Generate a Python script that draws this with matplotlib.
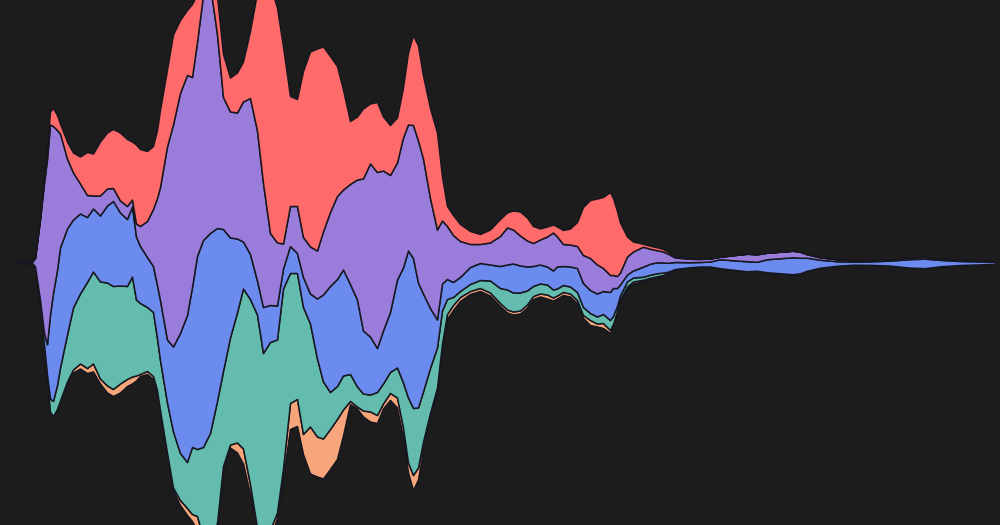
import numpy as np
import matplotlib
matplotlib.use("Agg")
import matplotlib.pyplot as plt

# sample positions along the stream
x = [15, 25, 32, 35, 40, 44, 47, 50, 53, 57, 60, 67, 73, 80, 87, 93, 100, 107, 113, 120,
     127, 132, 136, 140, 147, 153, 157, 160, 167, 173, 180, 187, 192, 197, 203, 210, 217, 223, 230, 237,
     243, 250, 257, 263, 270, 277, 283, 290, 297, 303, 310, 317, 323, 330, 337, 343, 350, 357, 363, 370,
     377, 383, 390, 397, 403, 408, 413, 418, 423, 430, 437, 442, 447, 453, 460, 470, 480, 490, 500, 507,
     513, 520, 527, 533, 540, 547, 553, 557, 563, 570, 577, 583, 590, 597, 603, 610, 613, 617, 620, 627,
     633, 643, 650, 657, 663, 668, 675, 690, 700, 710, 720, 733, 747, 757, 767, 780, 793, 800, 807, 820,
     837, 853, 870, 890, 910, 925, 940, 960, 980, 995]

# layer values, bottom to top
orange = [1.2, 1.2, 1.0, 0.5, 0.5, 0.5, 0.5, 2, 1, 1, 1, 2, 3, 5, 5, 8, 5, 7, 7, 9,
          7, 7, 5, 2, 3, 3, 5, 5, 3, 3, 5, 7, 7, 15, 8, 5, 6, 5, 3, 10,
          15, 10, 5, 5, 10, 5, 10, 26, 27, 20, 47, 40, 40, 40, 40, 26, 3, 2, 6, 10,
          8, 5, 7, 10, 10, 10, 15, 12, 8, 4, 5, 5, 5, 5, 4, 3, 3, 3, 3, 3,
          3, 3, 3, 3, 3, 4, 3, 3, 3, 3, 3, 3, 5, 3, 5, 3, 3, 3, 3, 2,
          2, 1.5, 1.5, 1.5, 1, 0.5, 0, 0, 0, 0, 0, 0, 0, 0, 0, 0, 0, 0, 0, 0,
          0, 0, 0, 0, 0, 0, 0, 0, 0, 0]
teal = [0, 0, 0, 0, 1, 2, 3, 13, 15, 24, 33, 47, 62, 70, 86, 92, 97, 103, 103, 98,
        93, 100, 76, 71, 64, 64, 52, 50, 50, 56, 47, 46, 67, 67, 90, 107, 122, 95, 107, 130,
        160, 185, 213, 182, 188, 173, 180, 130, 126, 127, 103, 78, 57, 37, 33, 34, 27, 20, 17, 17,
        23, 20, 21, 30, 45, 65, 67, 60, 50, 45, 40, 33, 15, 8, 6, 7, 8, 12, 15, 20,
        19, 18, 14, 10, 10, 10, 8, 7, 7, 7, 8, 8, 7, 7, 9, 10, 8, 5, 4, 5,
        4, 3, 3, 3, 2.5, 1, 0, 0, 0, 0, 0, 0, 0, 0, 0, 0, 0, 0, 0, 0,
        0, 0, 0, 0, 0, 0, 0, 0, 0, 0]
blue = [0, 0, 0.5, 1, 6, 12, 30, 84, 108, 115, 120, 106, 88, 80, 65, 63, 66, 77, 85, 73,
        67, 70, 63, 57, 50, 46, 53, 60, 63, 85, 120, 147, 160, 193, 207, 200, 173, 142, 100, 74,
        47, 45, 34, 46, 37, 34, 20, 27, 20, 30, 30, 60, 87, 106, 107, 106, 90, 87, 63, 58,
        44, 53, 60, 88, 115, 147, 150, 125, 98, 60, 28, 27, 20, 15, 14, 17, 17, 16, 22, 25,
        29, 27, 24, 20, 19, 18, 19, 22, 19, 20, 24, 24, 23, 23, 23, 28, 28, 18, 11, 7,
        7, 10, 11, 11, 10, 9, 7, 5, 4.5, 5, 9, 9.5, 10, 9, 13, 15, 17, 15.5, 13, 8,
        4.5, 3, 3.5, 5, 8.5, 9.5, 6.5, 4, 3, 2]
purple = [0, 0, 1.0, 8, 80, 150, 185, 190, 167, 140, 114, 70, 47, 30, 22, 13, 20, 17, 13, 12,
          13, 7, 13, 20, 36, 57, 87, 113, 193, 222, 240, 240, 210, 214, 245, 248, 194, 132, 126, 126,
          140, 156, 150, 124, 72, 63, 25, 40, 47, 40, 47, 48, 63, 74, 83, 80, 100, 120, 152, 173,
          176, 160, 137, 117, 130, 126, 133, 142, 135, 110, 90, 63, 53, 47, 36, 23, 19, 22, 30, 37,
          34, 30, 26, 23, 25, 30, 38, 30, 22, 22, 22, 28, 32, 29, 23, 17, 13, 12, 12, 18,
          19, 20, 15, 12, 11, 9, 4.5, 3.5, 3, 3, 2.5, 5, 7.5, 7.5, 6.5, 6.5, 6.5, 6, 3.5, 2.5,
          2, 1.5, 1.2, 1.2, 1.8, 1.8, 1.2, 1, 0.8, 0.5]
red = [1.2, 1.2, 1.2, 1, 2, 5, 12, 13, 18, 15, 10, 17, 20, 27, 43, 42, 54, 56, 59, 68,
       67, 58, 79, 77, 70, 63, 68, 77, 77, 90, 73, 65, 73, 48, 15, 5, 38, 43, 34, 40,
       40, 67, 138, 198, 248, 235, 197, 110, 107, 166, 195, 202, 185, 156, 130, 100, 63, 63, 70, 60,
       70, 54, 50, 45, 50, 72, 90, 95, 83, 90, 97, 44, 20, 20, 17, 13, 10, 13, 17, 15,
       19, 24, 23, 17, 11, 10, 8, 10, 14, 16, 24, 48, 58, 66, 71, 83, 77, 65, 50, 20,
       10, 3, 3, 3, 2.5, 2, 1.5, 1, 0.5, 0, 0, 0, 0, 0, 0, 0, 0, 0, 0, 0,
       0, 0, 0, 0, 0, 0, 0, 0, 0, 0]

colors = ["#f7a67b", "#63bcae", "#6b8bee", "#9a7ddb", "#ff6b6b"]
bg = "#1c1c1c"

fig = plt.figure(figsize=(10, 5.25), dpi=100, facecolor=bg)
ax = fig.add_axes([0, 0, 1, 1])
ax.set_facecolor(bg)

polys = ax.stackplot(x, orange, teal, blue, purple, red,
                     colors=colors, baseline="sym")
for p in polys:
    p.set_edgecolor("#17171f")
    p.set_linewidth(1.1)

ax.set_xlim(0, 1000)
ax.set_ylim(-262.5, 262.5)
ax.axis("off")

fig.savefig("out.png", dpi=100, facecolor=bg)
